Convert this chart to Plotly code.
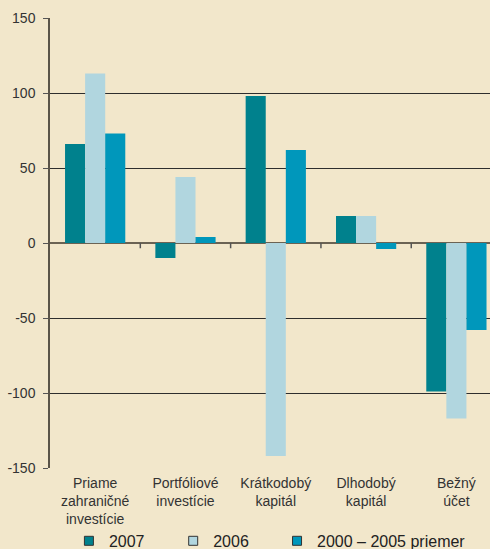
import plotly.graph_objects as go

categories = ["Priame<br>zahraničné<br>investície", "Portfóliové<br>investície",
              "Krátkodobý<br>kapitál", "Dlhodobý<br>kapitál", "Bežný<br>účet"]
series_names = ["2007", "2006", "2000 – 2005 priemer"]
v2007 = [66, -10, 98, 18, -99]
v2006 = [113, 44, -142, 18, -117]
vavg = [73, 4, 62, -4, -58]
colors = ["#00818D", "#B1D6DF", "#0097BB"]
y_ticks = [-150, -100, -50, 0, 50, 100, 150]
legend_x = [0.043, 0.28, 0.516]

bg = "#F2E7CB"
fig = go.Figure()
xs = list(range(len(categories)))
for name, vals, col in zip(series_names, [v2007, v2006, vavg], colors):
    fig.add_trace(go.Bar(x=xs, y=vals, name=name, marker=dict(color=col, line=dict(width=0)),
                         showlegend=False))
legend_ids = ["legend", "legend2", "legend3"]
for name, col, lid in zip(series_names, colors, legend_ids):
    fig.add_trace(go.Scatter(x=[None], y=[None], mode="markers", name=name, legend=lid,
                             marker=dict(symbol="square", size=9, color=col,
                                         line=dict(color="#333", width=1))))

# category boundary ticks on zero line
for b in [0.5, 1.5, 2.5, 3.5]:
    fig.add_shape(type="line", x0=b, x1=b, y0=0, y1=-3.5, xref="x", yref="y",
                  line=dict(color="#555", width=1.5))

leg_common = dict(orientation="h", xanchor="left", y=-0.162, yanchor="middle",
                  font=dict(size=16, color="#222"), bgcolor="rgba(0,0,0,0)",
                  borderwidth=0, itemwidth=30)
fig.update_layout(
    width=490, height=549,
    paper_bgcolor=bg, plot_bgcolor=bg,
    margin=dict(l=50, r=0, t=18, b=81, autoexpand=False),
    barmode="group", bargap=0.333, bargroupgap=0,
    font=dict(family="Liberation Sans", color="#333", size=13),
    xaxis=dict(range=[-0.5, 4.372], tickvals=xs, ticktext=categories, automargin=False,
               showgrid=False, zeroline=False, showline=False, ticks="",
               ticklabelstandoff=5,
               tickfont=dict(family="Liberation Sans Narrow, Liberation Sans", size=14, color="#333")),
    yaxis=dict(range=[-150, 150], tickvals=y_ticks, ticktext=[str(t) for t in y_ticks],
               automargin=False,
               showgrid=True, gridcolor="#2e2e2e", gridwidth=1.3,
               zeroline=True, zerolinecolor="#6b6354", zerolinewidth=2,
               showline=True, linecolor="#5a5448", linewidth=1.5,
               ticks="outside", ticklen=5, tickcolor="#555", tickwidth=1.3,
               ticklabelstandoff=5,
               tickfont=dict(size=14, color="#333")),
    legend=dict(x=legend_x[0], **leg_common),
    legend2=dict(x=legend_x[1], **leg_common),
    legend3=dict(x=legend_x[2], **leg_common),
)
fig.write_html("out.html", config={"displayModeBar": False},
               post_script="document.body.style.margin='0';document.body.style.overflow='hidden';")
